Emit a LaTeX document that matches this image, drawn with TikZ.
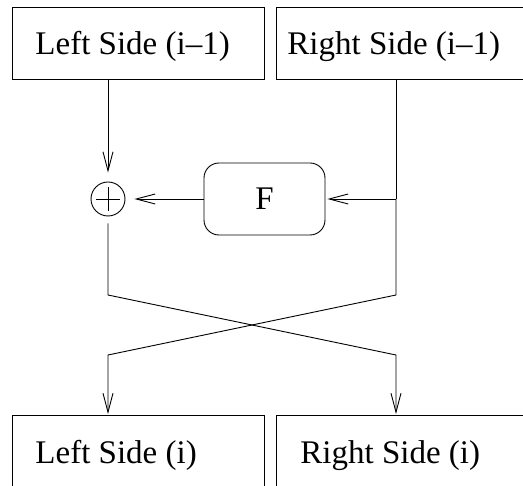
\documentclass[tikz,border=0pt]{standalone}
\usepackage{fontspec}
\setmainfont{Liberation Serif}
\usetikzlibrary{arrows.meta}
\begin{document}
\begin{tikzpicture}[x=1pt,y=-1pt,line width=0.9pt,
  box/.style={draw,rectangle,anchor=north west,minimum height=72pt,inner sep=0pt},
  lbl/.style={anchor=base west,inner sep=0pt,font=\fontsize{33}{36}\selectfont},
  fbox/.style={draw,rounded corners=15pt,minimum width=121pt,minimum height=72pt,inner sep=0pt,font=\fontsize{33}{36}\selectfont},
  xor/.style={draw,circle,minimum size=34pt,inner sep=0pt},
  arr/.style={-{Straight Barb[length=19pt,width=10pt,line width=0.9pt]}}]
\useasboundingbox (0,0) rectangle (523,486);
\begin{scope}
\clip (0,0) rectangle (523,486);
\node[box,minimum width=252pt] (tl) at (12,7) {};
\node[box,minimum width=260pt] (tr) at (276,7) {};
\node[box,minimum width=252pt] (bl) at (12,415) {};
\node[box,minimum width=260pt] (br) at (276,415) {};
\end{scope}
\node[lbl] (tlt) at (35,55) {Left Side (i–1)};
\node[lbl] (trt) at (287,55) {Right Side (i–1)};
\node[lbl] (blt) at (35,464) {Left Side (i)};
\node[lbl] (brt) at (300,464) {Right Side (i)};
\node[fbox] (f) at (264.5,199) {F};
\node[xor] (x) at (108,199) {};
\draw (x.center) ++(-12,0) -- ++(24,0);
\draw (x.center) ++(0,-12) -- ++(0,24);
\coordinate (tap) at (396,199);
\coordinate (a1) at (108,295);
\coordinate (a2) at (396,355);
\coordinate (b1) at (396,295);
\coordinate (b2) at (108,355);
\draw[arr] (tl.south -| x) -- ([yshift=9pt]x.north);
\draw (tr.south -| tap) -- (tap);
\draw[arr] (tap) -- ([xshift=2pt]f.east);
\draw[arr] (f.west) -- ([xshift=9pt]x.east);
\draw[arr] ([yshift=-7pt]x.south) -- (a1) -- (a2) -- ([yshift=1pt]br.north -| a2);
\draw[arr] (tap) -- (b1) -- (b2) -- ([yshift=1pt]bl.north -| b2);
\end{tikzpicture}
\end{document}
